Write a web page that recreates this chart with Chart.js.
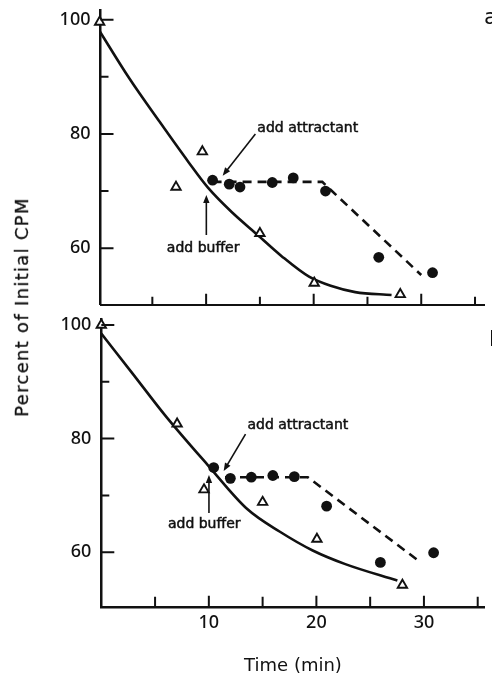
<!DOCTYPE html>
<html>
<head>
<meta charset="utf-8">
<script src="https://cdn.jsdelivr.net/npm/chart.js@4.4.1/dist/chart.umd.min.js"></script>
<style>
  html, body { margin: 0; padding: 0; background: #fff; }
  #fig { position: relative; width: 492px; height: 677px; overflow: hidden; background: #fff; }
  #fig canvas { position: absolute; left: 0; }
  #cA { top: 0; }
  #cB { top: 312px; }
  .ylab { position: absolute; left: 22px; top: 307px; transform: translate(-50%, -50%) rotate(-90deg);
          font: 18px 'DejaVu Sans'; letter-spacing: 1.3px; white-space: nowrap; color: #111; line-height: 20px;
          -webkit-text-stroke: 0.3px #111; }
  .panel { position: absolute; font: 22px 'DejaVu Sans'; color: #111; line-height: 22px; }
</style>
</head>
<body>
<div id="fig">
  <canvas id="cA" width="492" height="312" style="width:492px;height:312px"></canvas>
  <canvas id="cB" width="492" height="365" style="width:492px;height:365px"></canvas>
  <div class="ylab">Percent of Initial CPM</div>
  <div class="panel" style="left:484px;top:6px">a</div>
  <div class="panel" style="left:489px;top:328px">b</div>
</div>
<script>
  // ── Data ──────────────────────────────────────────
  const xMarks = [5, 10, 15, 20, 25, 30, 35];
  const xLabels = [10, 20, 30];
  const yLabels = [60, 80, 100];
  const yMinor = [70, 90];

  // panel a
  const aBufX = [0.1, 7.2, 9.65, 15.0, 20.05, 28.05];
  const aBufY = [99.6, 70.7, 76.9, 62.6, 53.9, 51.9];
  const aAttX = [10.6, 12.15, 13.15, 16.15, 18.1, 21.1, 26.05, 31.05];
  const aAttY = [71.9, 71.2, 70.7, 71.5, 72.3, 70.0, 58.4, 55.7];
  const aFitX = [0, 2.87, 5.61, 8.35, 10.17, 12.45, 14.74, 17.02, 19.57, 21.58, 23.86, 27.24];
  const aFitY = [98.3, 89.7, 82.3, 75.1, 70.6, 66.2, 62.4, 58.6, 55.0, 53.4, 52.3, 51.8];
  const aDashX = [10.6, 20.8, 30.0];
  const aDashY = [71.6, 71.6, 55.3];
  const aNotes = [
    { text: 'add attractant', x: 19.45, y: 81.0, from: [14.58, 80.0], to: [11.54, 72.7] },
    { text: 'add buffer', x: 9.72, y: 60.0, from: [10.02, 62.3], to: [10.02, 69.3] }
  ];

  // panel b
  const bBufX = [0, 7.05, 9.55, 15.0, 20.05, 28.0];
  const bBufY = [100, 82.6, 71.0, 68.8, 62.3, 54.2];
  const bAttX = [10.45, 12.0, 13.95, 15.95, 17.95, 20.95, 25.95, 30.9];
  const bAttY = [74.9, 73.0, 73.2, 73.5, 73.3, 68.1, 58.2, 59.9];
  const bFitX = [0, 2.93, 5.97, 9.92, 13.57, 16.61, 19.66, 22.69, 27.53];
  const bFitY = [98.5, 91.4, 84.0, 75.3, 67.6, 63.6, 60.3, 57.9, 55.0];
  const bDashX = [11.5, 19.2, 29.7];
  const bDashY = [73.2, 73.2, 58.2];
  const bNotes = [
    { text: 'add attractant', x: 18.28, y: 82.3, from: [13.41, 80.8], to: [11.38, 74.3] },
    { text: 'add buffer', x: 9.57, y: 64.9, from: [10.01, 66.9], to: [10.01, 73.6] }
  ];

  const INK = '#111';
  const zip = (xs, ys) => xs.map((x, i) => ({ x, y: ys[i] }));

  // ── Inward ticks + annotations ──────────────────────
  function deco(notes, xMajor, xMinor) {
    return {
      id: 'deco',
      afterDraw(chart) {
        const { ctx, chartArea: a, scales: { x, y } } = chart;
        ctx.save();
        ctx.strokeStyle = INK; ctx.fillStyle = INK; ctx.lineWidth = 2;
        ctx.beginPath();
        xMarks.forEach(v => {
          const px = x.getPixelForValue(v);
          ctx.moveTo(px, a.bottom); ctx.lineTo(px, a.bottom - (v % 10 === 0 ? xMajor : xMinor));
        });
        yLabels.forEach(v => { const py = y.getPixelForValue(v); ctx.moveTo(a.left, py); ctx.lineTo(a.left + 13, py); });
        yMinor.forEach(v => { const py = y.getPixelForValue(v); ctx.moveTo(a.left, py); ctx.lineTo(a.left + 8, py); });
        ctx.stroke();

        ctx.font = '14px "DejaVu Sans"';
        ctx.textAlign = 'center'; ctx.textBaseline = 'middle';
        notes.forEach(n => {
          const tx = x.getPixelForValue(n.x), ty = y.getPixelForValue(n.y);
          ctx.lineWidth = 0.5;
          ctx.fillText(n.text, tx, ty);
          ctx.strokeText(n.text, tx, ty);
          const x0 = x.getPixelForValue(n.from[0]), y0 = y.getPixelForValue(n.from[1]);
          const x1 = x.getPixelForValue(n.to[0]), y1 = y.getPixelForValue(n.to[1]);
          const ang = Math.atan2(y1 - y0, x1 - x0);
          ctx.lineWidth = 1.6;
          ctx.beginPath(); ctx.moveTo(x0, y0); ctx.lineTo(x1 - 5 * Math.cos(ang), y1 - 5 * Math.sin(ang)); ctx.stroke();
          ctx.beginPath();
          ctx.moveTo(x1, y1);
          ctx.lineTo(x1 - 8 * Math.cos(ang) + 3.2 * Math.sin(ang), y1 - 8 * Math.sin(ang) - 3.2 * Math.cos(ang));
          ctx.lineTo(x1 - 8 * Math.cos(ang) - 3.2 * Math.sin(ang), y1 - 8 * Math.sin(ang) + 3.2 * Math.cos(ang));
          ctx.closePath(); ctx.fill();
        });
        ctx.restore();
      }
    };
  }

  function panel(id, d) {
    return new Chart(document.getElementById(id), {
      type: 'scatter',
      data: {
        datasets: [
          { data: zip(d.bufX, d.bufY), order: 0, pointStyle: 'triangle', pointRadius: 5.4, borderWidth: 1.9,
            backgroundColor: '#fff', borderColor: INK, clip: false },
          { data: zip(d.attX, d.attY), order: 1, pointStyle: 'circle', pointRadius: 5.4, borderWidth: 0,
            backgroundColor: INK, clip: false },
          { data: zip(d.fitX, d.fitY), order: 2, showLine: true, pointRadius: 0, borderColor: INK, borderWidth: 2.6,
            cubicInterpolationMode: 'monotone' },
          { data: zip(d.dashX, d.dashY), order: 3, showLine: true, pointRadius: 0, borderColor: INK, borderWidth: 2.6,
            borderDash: [9, 6], tension: 0 }
        ]
      },
      options: {
        responsive: false, animation: false, events: [],
        layout: { padding: { top: d.padTop, right: 0, bottom: 0, left: 0 } },
        plugins: { legend: { display: false }, tooltip: { enabled: false } },
        scales: {
          x: {
            type: 'linear', min: d.xMin, max: d.xMax,
            grid: { display: false, drawTicks: false },
            border: { display: true, width: d.xBorder, color: INK },
            ticks: { display: d.showX, autoSkip: false, maxRotation: 0, padding: 5, color: INK,
                     font: { family: 'Noto Sans', size: 18, weight: '500' } },
            title: { display: d.showX, text: 'Time (min)', color: INK, padding: { top: 0, bottom: 0 },
                     font: { family: 'DejaVu Sans', size: 18 } },
            afterBuildTicks: s => { s.ticks = xLabels.map(v => ({ value: v })); },
            afterFit: s => { s.height = d.xH; s.paddingLeft = 0; s.paddingRight = 0; }
          },
          y: {
            min: d.yMin, max: d.yMax,
            grid: { display: false, drawTicks: false },
            border: { display: true, width: 2.5, color: INK },
            ticks: { padding: 10, color: INK, font: { family: 'Noto Sans', size: 18, weight: '500' } },
            afterBuildTicks: s => { s.ticks = yLabels.map(v => ({ value: v })); },
            afterFit: s => { s.width = d.yW; s.paddingTop = 0; s.paddingBottom = 0; }
          }
        }
      },
      plugins: [deco(d.notes, d.xMajor, d.xMinor)]
    });
  }

  panel('cA', {
    bufX: aBufX, bufY: aBufY, attX: aAttX, attY: aAttY, fitX: aFitX, fitY: aFitY, dashX: aDashX, dashY: aDashY,
    notes: aNotes, xMin: 0.18, xMax: 35.9, yMin: 50.1, yMax: 101.7, padTop: 10, xH: 5, yW: 100.5,
    showX: false, xBorder: 2, xMajor: 11, xMinor: 8
  });
  panel('cB', {
    bufX: bBufX, bufY: bBufY, attX: bAttX, attY: bAttY, fitX: bFitX, fitY: bFitY, dashX: bDashX, dashY: bDashY,
    notes: bNotes, xMin: 0, xMax: 35.65, yMin: 50.4, yMax: 101, padTop: 4, xH: 70.3, yW: 101.3,
    showX: true, xBorder: 2.4, xMajor: 11, xMinor: 10
  });
</script>
</body>
</html>
